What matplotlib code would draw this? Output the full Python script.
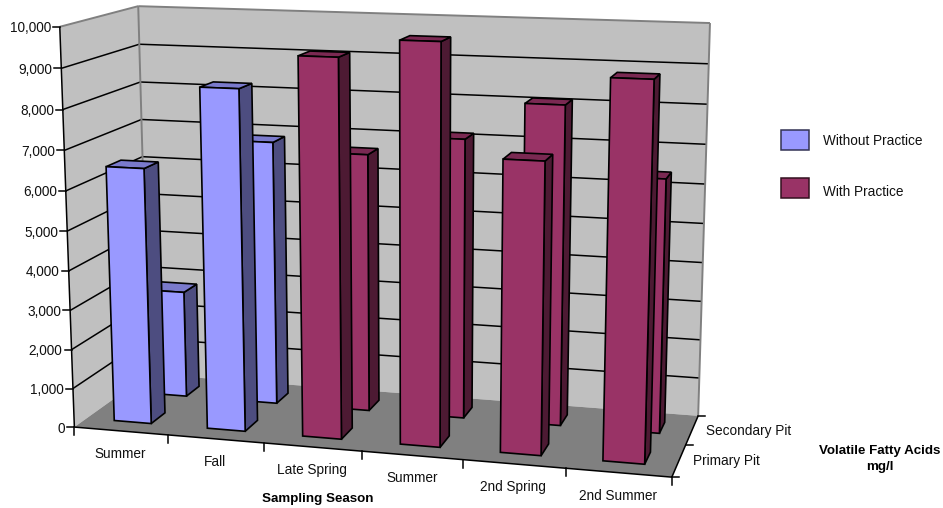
import numpy as np
import matplotlib
matplotlib.use('Agg')
import matplotlib.pyplot as plt
from matplotlib.patches import Polygon, Rectangle

plt.rcParams['font.family'] = ['Liberation Sans', 'DejaVu Sans']

seasons = ['Summer', 'Fall', 'Late Spring', 'Summer', '2nd Spring', '2nd Summer']
pits = ['Primary Pit', 'Secondary Pit']
primary_pit = [6500, 8560, 9400, 9850, 7150, 9150]
secondary_pit = [2800, 6850, 6650, 7150, 8100, 6400]
with_practice = [False, False, True, True, True, True]
y_ticks = list(range(0, 10001, 1000))
y_max = 10000

BLUE = ('#9999FF', '#7A7ACC', '#4D4D80')
PURPLE = ('#993366', '#7A2952', '#4D1A33')

# box corners on screen, used to fit the 3d projection (x, depth, value -> pixel)
corners = [((0, 0, 0), (74, 427)), ((0, 0, 1), (60, 27)), ((0, 1, 0), (149, 374)),
           ((0, 1, 1), (138, 6)), ((1, 0, 0), (672, 477)), ((1, 1, 0), (698, 416)),
           ((1, 1, 1), (710, 23))]
rows = []
for (x, d, v), (u, w) in corners:
    rows.append([x, d, v, 1, 0, 0, 0, 0, -u*x, -u*d, -u*v, -u])
    rows.append([0, 0, 0, 0, x, d, v, 1, -w*x, -w*d, -w*v, -w])
P = np.linalg.svd(np.array(rows, dtype=float))[2][-1].reshape(3, 4)


def proj(cat, depth, value):
    """cat in categories (0..6), depth in 0..1, value in data units"""
    p = P @ np.array([cat / len(seasons), depth, value / y_max, 1.0])
    return p[0] / p[2], p[1] / p[2]


fig = plt.figure(figsize=(9.43, 5.08), dpi=100)
ax = fig.add_axes([0, 0, 1, 1])
ax.set_xlim(0, 943)
ax.set_ylim(508, 0)
ax.axis('off')
n = len(seasons)


def face(pts, fc, ec='black', lw=1.2, z=2):
    ax.add_patch(Polygon([proj(*p) for p in pts], closed=True, fc=fc, ec=ec, lw=lw,
                         joinstyle='miter', zorder=z))


def line(a, b, c='black', lw=1.1, z=3):
    (x0, y0), (x1, y1) = proj(*a), proj(*b)
    ax.plot([x0, x1], [y0, y1], color=c, lw=lw, zorder=z, solid_capstyle='butt')


# walls and floor
face([(0, 0, 0), (0, 1, 0), (0, 1, y_max), (0, 0, y_max)], '#C0C0C0', ec='none', z=1)
face([(0, 1, 0), (n, 1, 0), (n, 1, y_max), (0, 1, y_max)], '#C0C0C0', ec='none', z=1)
face([(0, 0, 0), (n, 0, 0), (n, 1, 0), (0, 1, 0)], '#808080', ec='none', z=1.5)
for t in y_ticks[1:-1]:
    line((0, 0, t), (0, 1, t), z=1.2)
    line((0, 1, t), (n, 1, t), z=1.2)
for a, b in [((0, 0, y_max), (0, 1, y_max)), ((0, 1, y_max), (n, 1, y_max)),
             ((n, 1, y_max), (n, 1, 0)), ((0, 1, y_max), (0, 1, 0))]:
    line(a, b, c='#808080', lw=1.4, z=1.3)

# axes lines and ticks
line((0, 0, 0), (0, 0, y_max))
line((0, 0, 0), (n, 0, 0))
line((n, 0, 0), (n, 1, 0))
for t in y_ticks:
    x, y = proj(0, 0, t)
    ax.plot([x - 7, x], [y, y], color='black', lw=1.1, zorder=3)
    ax.text(x - 9, y + 1.5, f'{t:,}', ha='right', va='center', fontsize=9.8, color='#111111')
for i in range(n + 1):
    x, y = proj(i, 0, 0)
    ax.plot([x, x], [y, y + 8], color='black', lw=1.1, zorder=3)
for d in (0, 0.5, 1):
    x, y = proj(n, d, 0)
    ax.plot([x, x + 7], [y, y], color='black', lw=1.1, zorder=3)

# bars, back row first so the front row covers it
BAR_W = 0.40
BAR_D = 0.19
for depth, values in ((0.75, secondary_pit), (0.25, primary_pit)):
    for i, val in enumerate(values):
        main, top, side = PURPLE if with_practice[i] else BLUE
        x0, x1 = i + 0.5 - BAR_W / 2, i + 0.5 + BAR_W / 2
        d0, d1 = depth - BAR_D / 2, depth + BAR_D / 2
        face([(x1, d0, 0), (x1, d1, 0), (x1, d1, val), (x1, d0, val)], side)
        face([(x0, d0, val), (x1, d0, val), (x1, d1, val), (x0, d1, val)], top)
        face([(x0, d0, 0), (x1, d0, 0), (x1, d0, val), (x0, d0, val)], main)

# text
label_pos = [(120, 454), (215, 462), (312, 470), (412, 478), (513, 487), (618, 496)]
for s, (x, y) in zip(seasons, label_pos):
    ax.text(x, y, s, ha='center', va='center', fontsize=9.8, color='#111111')
ax.text(693, 461, pits[0], ha='left', va='center', fontsize=9.8, color='#111111')
ax.text(706, 431, pits[1], ha='left', va='center', fontsize=9.8, color='#111111')
ax.text(318, 499, 'Sampling Season', ha='center', va='center', fontsize=9.6,
        fontweight='bold', color='black')
ax.text(880, 459, 'Volatile Fatty Acids\nmg/l', ha='center', va='center', fontsize=9.6,
        fontweight='bold', color='black', linespacing=1.45)

# legend
ax.add_patch(Rectangle((781, 130), 28, 20, fc=BLUE[0], ec='#333355', lw=1.1))
ax.add_patch(Rectangle((781, 178), 28, 20, fc=PURPLE[0], ec='#33111f', lw=1.1))
ax.text(823, 141, 'Without Practice', ha='left', va='center', fontsize=9.8, color='#111111')
ax.text(823, 192, 'With Practice', ha='left', va='center', fontsize=9.8, color='#111111')

fig.savefig('out.png', dpi=100)
plt.close(fig)
